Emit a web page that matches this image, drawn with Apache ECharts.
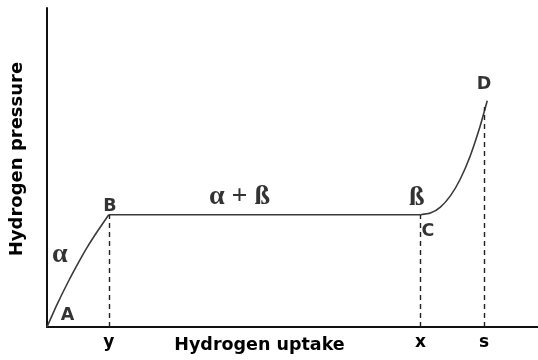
<!DOCTYPE html>
<html>
<head>
<meta charset="utf-8">
<script src="https://cdn.jsdelivr.net/npm/echarts@6/dist/echarts.min.js"></script>
<style>
  html, body { margin: 0; padding: 0; background: #fff; }
  #chart { width: 538px; height: 360px; }
</style>
</head>
<body>
<div id="chart"></div>
<script>
// Pressure–composition isotherm: alpha phase, alpha+beta plateau, beta phase.
// Hydrogen uptake on x, hydrogen pressure on y (arbitrary units 0–100).
const alphaBranch = [[0, 0], [2.03, 7.0], [4.06, 13.4], [6.09, 19.3], [8.11, 24.8], [10.14, 29.7], [12.58, 35.2]];
const plateau = [[12.58, 35.2], [76.06, 35.2]];
const betaBranch = [[76.06, 35.2], [78.09, 35.7], [80.12, 37.6], [82.15, 41.1], [84.18, 46.4], [86.21, 53.7], [88.24, 63.1], [89.66, 70.9]];

// Marked points on the curve
const pointNames = ['A', 'B', 'C', 'D'];
const pointLabelPos = [[4.2, 3.6], [12.8, 37.8], [77.6, 29.8], [89.0, 76.0]];

// Phase region labels
const phaseNames = ['α', 'α + ß', 'ß'];
const phaseLabelPos = [[2.6, 22.6], [39.2, 40.8], [75.3, 40.6]];

// Compositions marked on the uptake axis (at B, C, D)
const compositionX = [12.58, 76.06, 89.0];
const compositionY = [35.2, 35.2, 69.0];
const compositionLabels = ['y', 'x', 's'];

const chart = echarts.init(document.getElementById('chart'));

const sans = '"DejaVu Sans", Verdana, sans-serif';
const serif = '"Liberation Serif", "DejaVu Serif", serif';

const curveStyle = { color: '#3a3a3a', width: 1.6 };

const textLabel = (family, size) => ({
  show: true, position: [0, 0], align: 'center', verticalAlign: 'middle',
  formatter: p => p.value[2],
  fontFamily: family, fontWeight: 'bold', fontSize: size, color: '#000'
});

chart.setOption({
  animation: false,
  grid: { left: 45, right: 0, top: 8, bottom: 33 },
  xAxis: {
    type: 'value', min: 0, max: 100,
    axisLine: { lineStyle: { color: '#111', width: 2 } },
    axisTick: { show: false }, axisLabel: { show: false }, splitLine: { show: false },
    name: 'Hydrogen uptake', nameLocation: 'middle', nameGap: 9,
    nameTextStyle: {
      fontFamily: sans, fontWeight: 'bold', fontSize: 17.5, color: '#000',
      verticalAlign: 'top', padding: [0, 66, 0, 0]
    }
  },
  yAxis: {
    type: 'value', min: 0, max: 100,
    axisLine: { lineStyle: { color: '#111', width: 2 } },
    axisTick: { show: false }, axisLabel: { show: false }, splitLine: { show: false },
    name: 'Hydrogen pressure', nameLocation: 'middle', nameGap: 21, nameRotate: 90,
    nameTextStyle: {
      fontFamily: sans, fontWeight: 'bold', fontSize: 18, color: '#000',
      padding: [0, 0, 0, 17]
    }
  },
  series: [
    {
      type: 'line', data: alphaBranch, smooth: 0.2,
      symbol: 'none', lineStyle: curveStyle
    },
    {
      type: 'line', data: plateau, symbol: 'none', lineStyle: curveStyle
    },
    {
      type: 'line', data: betaBranch, smooth: 0.2,
      symbol: 'none', lineStyle: curveStyle,
      markLine: {
        silent: true, symbol: ['none', 'none'],
        lineStyle: { type: [5, 4], color: '#222', width: 1.4 },
        label: {
          show: true, position: 'start', distance: 7,
          fontFamily: sans, fontWeight: 'bold', fontSize: 17, color: '#000',
          formatter: p => p.name
        },
        data: compositionX.map((x, i) => [
          { coord: [x, 0], name: compositionLabels[i] },
          { coord: [x, compositionY[i]] }
        ])
      }
    },
    {
      type: 'scatter', symbolSize: 0, clip: false, silent: true,
      data: pointNames.map((n, i) => [pointLabelPos[i][0], pointLabelPos[i][1], n]),
      label: textLabel(sans, 17.5)
    },
    {
      type: 'scatter', symbolSize: 0, clip: false, silent: true,
      data: phaseNames.map((n, i) => [phaseLabelPos[i][0], phaseLabelPos[i][1], n]),
      label: textLabel(serif, 28)
    }
  ]
});
</script>
</body>
</html>
